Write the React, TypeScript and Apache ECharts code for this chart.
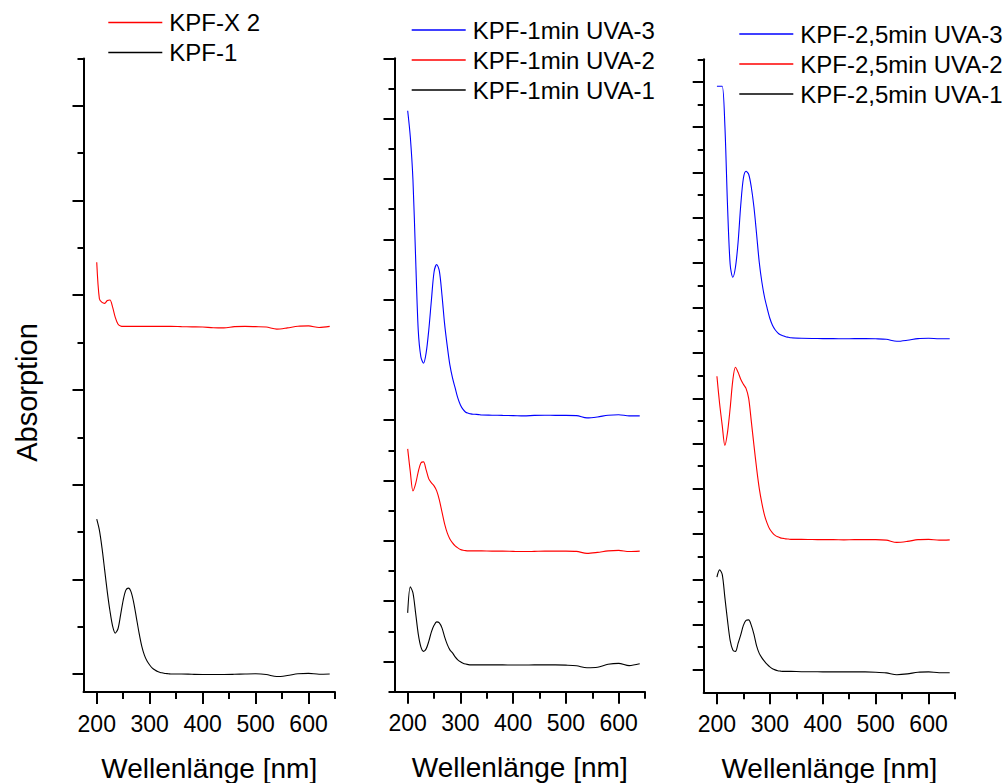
import React, { useEffect, useRef } from "react";
import * as echarts from "echarts";

// Wavelength grid (nm)
const wavelengths = [
  200, 205, 210, 215, 220, 225, 230, 235, 240, 245, 250, 255, 260, 265, 270, 275, 280, 285, 290, 295,
  300, 305, 310, 315, 320, 325, 330, 335, 340, 360, 380, 400, 420, 440, 460, 480, 500, 520, 540, 560,
  580, 600, 620, 640,
];

// Panel 1 (offset-stacked absorption, arbitrary units)
const kpf1 = [
  1.635, 1.519, 1.329, 1.097, 0.865, 0.665, 0.506, 0.432, 0.475, 0.622, 0.781, 0.886, 0.907, 0.865, 0.749,
  0.591, 0.432, 0.295, 0.2, 0.137, 0.095, 0.063, 0.042, 0.026, 0.016, 0.011, 0.005, 0.003, 0.0,
  0.0, -0.003, -0.005, -0.005, -0.005, -0.003, 0.0, 0.002, -0.005, -0.027, -0.016, 0.002, 0.007, -0.002, 0.0,
];
const kpfX2 = [
  4.349, 3.963, 3.924, 3.914, 3.945, 3.95, 3.874, 3.766, 3.697, 3.676, 3.671, 3.671, 3.671, 3.671, 3.671,
  3.671, 3.671, 3.671, 3.671, 3.671, 3.671, 3.671, 3.671, 3.671, 3.671, 3.671, 3.671, 3.671, 3.671,
  3.668, 3.666, 3.664, 3.657, 3.655, 3.668, 3.671, 3.668, 3.664, 3.642, 3.655, 3.673, 3.676, 3.66, 3.671,
];

// Panel 2
const kpf1minUva3 = [
  9.131, 8.696, 7.983, 6.707, 5.497, 5.05, 4.945, 5.116, 5.497, 5.994, 6.458, 6.583, 6.475, 6.077, 5.597,
  5.232, 4.917, 4.702, 4.536, 4.37, 4.254, 4.18, 4.133, 4.117, 4.105, 4.1, 4.097, 4.093, 4.088,
  4.084, 4.08, 4.077, 4.072, 4.08, 4.084, 4.08, 4.08, 4.077, 4.039, 4.055, 4.084, 4.092, 4.072, 4.072,
];
const kpf1minUva2 = [
  3.525, 3.144, 2.829, 2.945, 3.144, 3.293, 3.31, 3.177, 3.028, 2.962, 2.912, 2.829, 2.68, 2.481, 2.282,
  2.133, 2.033, 1.967, 1.917, 1.884, 1.859, 1.846, 1.838, 1.835, 1.835, 1.835, 1.835, 1.835, 1.835,
  1.83, 1.83, 1.826, 1.823, 1.826, 1.83, 1.83, 1.83, 1.826, 1.793, 1.81, 1.835, 1.843, 1.823, 1.83,
];
const kpf1minUva1 = [
  0.807, 1.238, 1.139, 0.807, 0.459, 0.244, 0.169, 0.21, 0.335, 0.492, 0.6, 0.658, 0.641, 0.558, 0.409,
  0.285, 0.194, 0.144, 0.078, 0.028, -0.005, -0.027, -0.041, -0.051, -0.055, -0.055, -0.055, -0.055, -0.055,
  -0.055, -0.055, -0.058, -0.058, -0.055, -0.055, -0.055, -0.06, -0.071, -0.104, -0.096, -0.046, -0.03, -0.068, -0.038,
];

// Panel 3
const kpf25minUva3 = [
  12.905, 12.905, 12.905, 12.042, 10.272, 8.967, 8.679, 8.9, 9.454, 10.272, 10.869, 11.024, 10.958, 10.67, 10.228,
  9.631, 9.011, 8.569, 8.237, 7.993, 7.772, 7.617, 7.518, 7.451, 7.407, 7.385, 7.363, 7.352, 7.341,
  7.33, 7.325, 7.323, 7.323, 7.319, 7.323, 7.323, 7.319, 7.308, 7.263, 7.286, 7.323, 7.33, 7.319, 7.319,
];
const kpf25minUva2 = [
  6.489, 5.892, 5.405, 4.962, 5.25, 5.781, 6.4, 6.688, 6.577, 6.423, 6.312, 6.223, 6.002, 5.493, 4.962,
  4.454, 4.011, 3.679, 3.414, 3.237, 3.104, 3.027, 2.971, 2.938, 2.916, 2.905, 2.894, 2.889, 2.883,
  2.883, 2.878, 2.876, 2.876, 2.872, 2.876, 2.876, 2.876, 2.865, 2.816, 2.838, 2.876, 2.883, 2.865, 2.872,
];
const kpf25minUva1 = [
  2.049, 2.208, 2.108, 1.6, 1.091, 0.648, 0.438, 0.405, 0.582, 0.77, 0.98, 1.091, 1.102, 0.98, 0.781,
  0.527, 0.361, 0.261, 0.184, 0.117, 0.062, 0.022, -0.004, -0.022, -0.031, -0.038, -0.038, -0.038, -0.038,
  -0.044, -0.044, -0.049, -0.049, -0.049, -0.049, -0.049, -0.055, -0.071, -0.111, -0.093, -0.055, -0.049, -0.066, -0.066,
];

// Axis ticks
const xMajorTicks = [200, 300, 400, 500, 600];
const xMinorTicks = [250, 350, 450, 550, 650];
const xRange = [175, 650];
const panelYRanges = [
  [-0.19, 6.5],
  [-0.5, 10],
  [-0.5, 13.5],
];
const panelYMajor = [
  [0, 1, 2, 3, 4, 5, 6],
  [0, 1, 2, 3, 4, 5, 6, 7, 8, 9, 10],
  [0, 1, 2, 3, 4, 5, 6, 7, 8, 9, 10, 11, 12, 13],
];
const panelYMinor = [
  [0.5, 1.5, 2.5, 3.5, 4.5, 5.5, 6.5],
  [-0.5, 0.5, 1.5, 2.5, 3.5, 4.5, 5.5, 6.5, 7.5, 8.5, 9.5],
  [0.5, 1.5, 2.5, 3.5, 4.5, 5.5, 6.5, 7.5, 8.5, 9.5, 10.5, 11.5, 12.5, 13.5],
];

const xTitle = "Wellenlänge [nm]";
const yTitle = "Absorption";

const seriesDefs = [
  { name: "KPF-X 2", panel: 0, color: "#ff0000", values: kpfX2 },
  { name: "KPF-1", panel: 0, color: "#000000", values: kpf1 },
  { name: "KPF-1min UVA-3", panel: 1, color: "#0000ff", values: kpf1minUva3 },
  { name: "KPF-1min UVA-2", panel: 1, color: "#ff0000", values: kpf1minUva2 },
  { name: "KPF-1min UVA-1", panel: 1, color: "#000000", values: kpf1minUva1 },
  { name: "KPF-2,5min UVA-3", panel: 2, color: "#0000ff", values: kpf25minUva3 },
  { name: "KPF-2,5min UVA-2", panel: 2, color: "#ff0000", values: kpf25minUva2 },
  { name: "KPF-2,5min UVA-1", panel: 2, color: "#000000", values: kpf25minUva1 },
];

const legendGroups = [
  ["KPF-X 2", "KPF-1"],
  ["KPF-1min UVA-3", "KPF-1min UVA-2", "KPF-1min UVA-1"],
  ["KPF-2,5min UVA-3", "KPF-2,5min UVA-2", "KPF-2,5min UVA-1"],
];

const FONT = "'Liberation Sans', Arial, Helvetica, sans-serif";

export default function App() {
  const ref = useRef<HTMLDivElement>(null);

  useEffect(() => {
    if (!ref.current) return;
    const chart = echarts.init(ref.current, undefined, { renderer: "svg" });

    const grids = [
      { left: 83.5, top: 58.5, width: 251.5, height: 633.5 },
      { left: 394.5, top: 58.3, width: 250.5, height: 633.4 },
      { left: 703.7, top: 59.3, width: 251.3, height: 633 },
    ];
    const legendPos = [
      { left: 108.3, top: 10.5 },
      { left: 411.7, top: 18 },
      { left: 739.3, top: 22 },
    ];

    const xAxes: any[] = [];
    const yAxes: any[] = [];
    grids.forEach((_, i) => {
      xAxes.push({
        type: "value",
        gridIndex: i,
        position: "bottom",
        min: xRange[0],
        max: xRange[1],
        name: xTitle,
        nameLocation: "middle",
        nameGap: 62,
        nameTextStyle: { fontSize: 28, color: "#000", fontFamily: FONT },
        axisLine: { show: true, onZero: false, lineStyle: { color: "#000", width: 2 } },
        axisTick: { show: true, length: 12, customValues: xMajorTicks, lineStyle: { color: "#000", width: 2 } },
        axisLabel: { show: true, customValues: xMajorTicks, margin: 20, fontSize: 23, color: "#000", fontFamily: FONT },
        splitLine: { show: false },
      });
      xAxes.push({
        type: "value",
        gridIndex: i,
        position: "bottom",
        min: xRange[0],
        max: xRange[1],
        axisLine: { show: false, onZero: false },
        axisTick: { show: true, length: 7, customValues: xMinorTicks, lineStyle: { color: "#000", width: 2 } },
        axisLabel: { show: false },
        splitLine: { show: false },
      });
      yAxes.push({
        type: "value",
        gridIndex: i,
        position: "left",
        min: panelYRanges[i][0],
        max: panelYRanges[i][1],
        axisLine: { show: true, onZero: false, lineStyle: { color: "#000", width: 2 } },
        axisTick: { show: true, length: 11, customValues: panelYMajor[i], lineStyle: { color: "#000", width: 2 } },
        axisLabel: { show: false },
        splitLine: { show: false },
      });
      yAxes.push({
        type: "value",
        gridIndex: i,
        position: "left",
        min: panelYRanges[i][0],
        max: panelYRanges[i][1],
        axisLine: { show: false, onZero: false },
        axisTick: { show: true, length: 6, customValues: panelYMinor[i], lineStyle: { color: "#000", width: 2 } },
        axisLabel: { show: false },
        splitLine: { show: false },
      });
    });

    const series = seriesDefs.map((s) => ({
      type: "line",
      name: s.name,
      xAxisIndex: s.panel * 2,
      yAxisIndex: s.panel * 2,
      data: wavelengths.map((w, k) => [w, s.values[k]]),
      symbol: "none",
      showSymbol: false,
      smooth: 0.3,
      color: s.color,
      lineStyle: { color: s.color, width: 1.1 },
      emphasis: { disabled: true },
    }));

    const legends = legendGroups.map((names, i) => ({
      data: names,
      orient: "vertical",
      left: legendPos[i].left,
      top: legendPos[i].top,
      padding: 0,
      itemGap: 6,
      itemWidth: 54,
      itemHeight: 1.5,
      icon: "rect",
      selectedMode: false,
      textStyle: { fontSize: 24, lineHeight: 24, color: "#000", fontFamily: FONT, padding: [0, 0, 0, 2] },
    }));

    chart.setOption({
      animation: false,
      backgroundColor: "#ffffff",
      grid: grids.map((g) => ({ ...g, containLabel: false, outerBoundsMode: "none" })),
      xAxis: xAxes,
      yAxis: yAxes,
      legend: legends,
      series,
      graphic: [
        {
          type: "text",
          x: 27,
          y: 392.5,
          rotation: Math.PI / 2,
          style: {
            text: yTitle,
            fontSize: 29,
            fontFamily: FONT,
            fill: "#000",
            align: "center",
            verticalAlign: "middle",
          },
        },
      ],
    });

    return () => chart.dispose();
  }, []);

  return (
    <div
      ref={ref}
      style={{ position: "fixed", left: 0, top: 0, width: 1006, height: 783, background: "#fff" }}
    />
  );
}
